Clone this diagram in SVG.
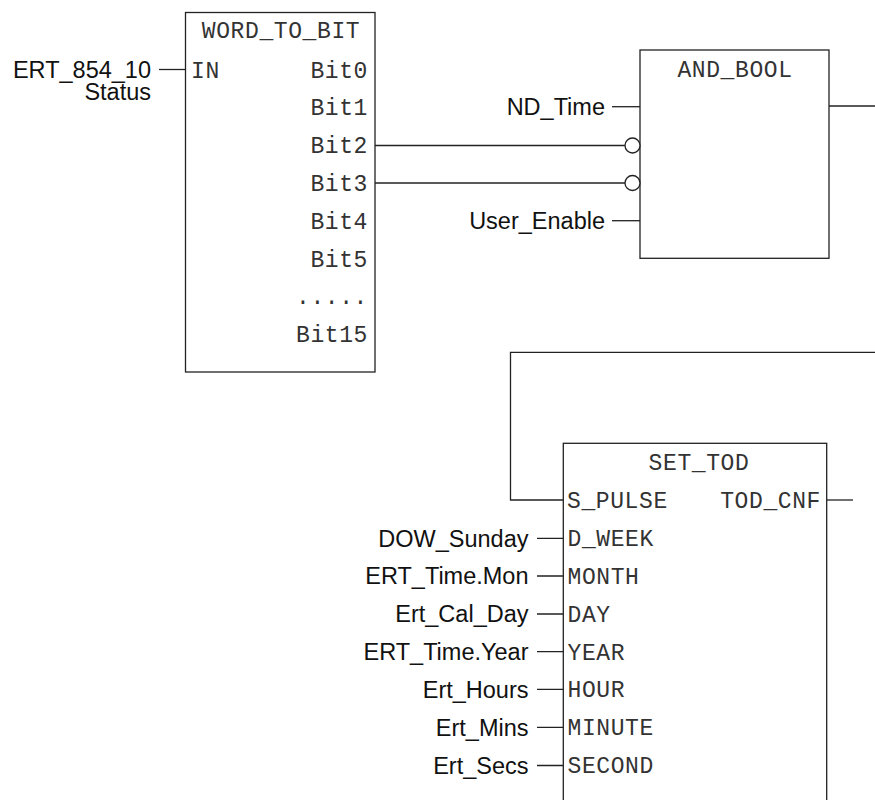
<svg xmlns="http://www.w3.org/2000/svg" width="875" height="800" viewBox="0 0 875 800">
<style>
.box{fill:#fff;stroke:#222;stroke-width:1.3}
.w{fill:none;stroke:#222;stroke-width:1.3}
.neg{fill:#fff;stroke:#222;stroke-width:1.3}
.m{font-family:"Liberation Mono","Courier New",monospace;font-size:23px;letter-spacing:0.6px;fill:#333}
.s{font-family:"Liberation Sans",Arial,sans-serif;font-size:23.5px;fill:#111;text-anchor:end}
.e{text-anchor:end}
.c{text-anchor:middle}
</style>
<rect width="875" height="800" fill="#fff"/>
<g id="connectors">
<path class="w" d="M159 69.5H185.5"/>
<path class="w" d="M375 145.5H625"/>
<path class="w" d="M375 183H625"/>
<path class="w" d="M612 106.7H640"/>
<path class="w" d="M612 220.7H640"/>
<path class="w" d="M829 106H875"/>
<path class="w" d="M875 352.3H510.5V500H563.3"/>
<path class="w" d="M826.7 500H853"/>
<path class="w" d="M537 538.3H563.3M537 576H563.3M537 614H563.3M537 651.7H563.3M537 689.3H563.3M537 727.3H563.3M537 765.5H563.3"/>
</g>
<g id="word_to_bit">
<rect class="box" x="185.5" y="12.5" width="189.5" height="359.5"/>
<text class="m c" x="281" y="38">WORD_TO_BIT</text>
<text class="m" x="191" y="77.5">IN</text>
<text class="m e" x="368" y="77.5">Bit0</text>
<text class="m e" x="368" y="115.3">Bit1</text>
<text class="m e" x="368" y="153.1">Bit2</text>
<text class="m e" x="368" y="190.9">Bit3</text>
<text class="m e" x="368" y="228.7">Bit4</text>
<text class="m e" x="368" y="266.5">Bit5</text>
<text class="m e" x="368" y="304.3">.....</text>
<text class="m e" x="368" y="342.1">Bit15</text>
</g>
<g id="ert_854_10">
<text class="s" x="151" y="77.5">ERT_854_10</text>
<text class="s" x="151" y="99.5">Status</text>
</g>
<g id="and_bool">
<rect class="box" x="640" y="50" width="189" height="208.3"/>
<text class="m c" x="735" y="77">AND_BOOL</text>
<circle class="neg" cx="632.5" cy="145.5" r="7.5"/>
<circle class="neg" cx="632.5" cy="183" r="7.5"/>
</g>
<g id="nd_time"><text class="s" x="605" y="114.5">ND_Time</text></g>
<g id="user_enable"><text class="s" x="605" y="228.5">User_Enable</text></g>
<g id="set_tod">
<rect class="box" x="563.3" y="443.3" width="263.4" height="400"/>
<text class="m c" x="699" y="470">SET_TOD</text>
<text class="m" x="567" y="508.3">S_PULSE</text>
<text class="m e" x="821" y="508.3">TOD_CNF</text>
<text class="m" x="567.5" y="546">D_WEEK</text>
<text class="m" x="567.5" y="583.8">MONTH</text>
<text class="m" x="567.5" y="621.8">DAY</text>
<text class="m" x="567.5" y="659.5">YEAR</text>
<text class="m" x="567.5" y="697.1">HOUR</text>
<text class="m" x="567.5" y="735.1">MINUTE</text>
<text class="m" x="567.5" y="773.3">SECOND</text>
</g>
<g id="inputs_set_tod">
<text class="s" x="528.5" y="546.5">DOW_Sunday</text>
<text class="s" x="528.5" y="584.3">ERT_Time.Mon</text>
<text class="s" x="528.5" y="622.3">Ert_Cal_Day</text>
<text class="s" x="528.5" y="660">ERT_Time.Year</text>
<text class="s" x="528.5" y="697.6">Ert_Hours</text>
<text class="s" x="528.5" y="735.6">Ert_Mins</text>
<text class="s" x="528.5" y="773.8">Ert_Secs</text>
</g>
</svg>
